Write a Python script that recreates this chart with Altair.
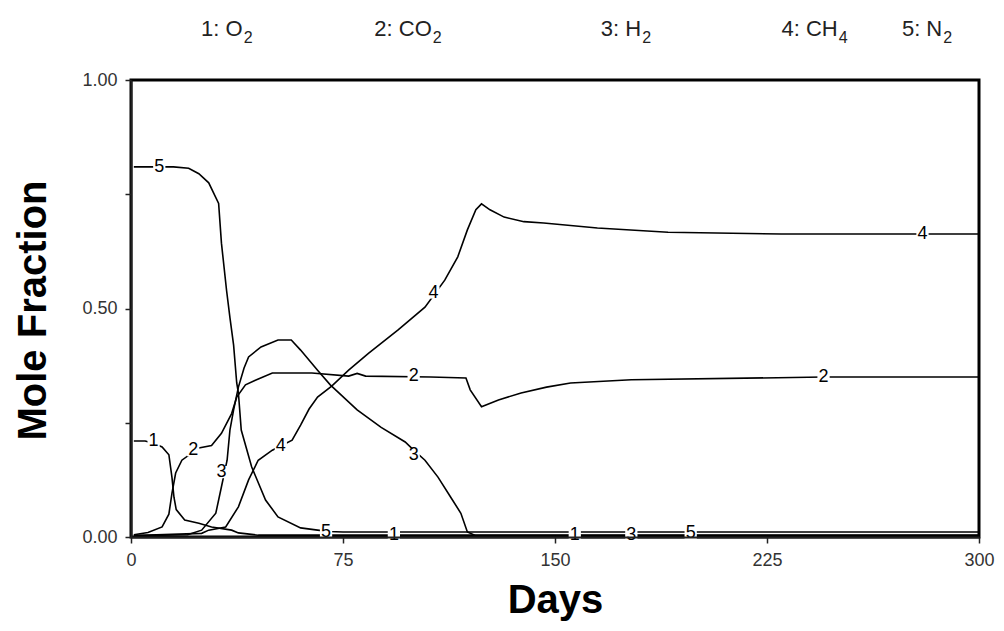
import altair as alt
import pandas as pd

# ---- data ----
series_names = ["1", "2", "3", "4", "5"]

days1 = [1, 5, 8, 11, 13.4, 14.5, 15.2, 16, 19, 24, 28.5, 35.6, 38, 45, 300]
vals1 = [0.21, 0.21, 0.205, 0.197, 0.18, 0.13, 0.087, 0.06, 0.037, 0.03, 0.022, 0.015, 0.009, 0.004, 0.004]

days2 = [1, 6, 11, 13.4, 14.5, 15.8, 18, 24, 28.5, 32, 35.6, 37.4, 40.5, 44, 50, 64, 77, 80, 83,
         106, 118.5, 120, 124, 130, 138, 147, 155.5, 177, 245, 300]
vals2 = [0.005, 0.01, 0.022, 0.05, 0.096, 0.14, 0.168, 0.195, 0.2, 0.227, 0.27, 0.306, 0.333, 0.343,
         0.359, 0.359, 0.352, 0.358, 0.352, 0.35, 0.348, 0.322, 0.285, 0.3, 0.315, 0.328, 0.337, 0.344,
         0.35, 0.35]

days3 = [1, 20, 25, 30, 32, 34, 35, 36.3, 38, 40, 41.6, 46, 52, 56.7, 60, 66, 70.5, 80, 88.5, 97,
         100, 104, 108.6, 113, 116.7, 119, 122, 300]
vals3 = [0.003, 0.005, 0.015, 0.052, 0.11, 0.168, 0.234, 0.278, 0.328, 0.37, 0.394, 0.416, 0.431,
         0.431, 0.409, 0.365, 0.333, 0.278, 0.24, 0.208, 0.19, 0.168, 0.131, 0.088, 0.052, 0.011,
         0.003, 0.003]

days4 = [1, 25, 27.5, 33.5, 38, 41.6, 45, 50, 57, 60, 63, 66, 71, 77, 84, 94.5, 104, 111, 115.6,
         119, 122, 124, 127, 132, 139, 146, 165, 190, 230, 300]
vals4 = [0.003, 0.008, 0.015, 0.022, 0.066, 0.125, 0.168, 0.19, 0.212, 0.245, 0.28, 0.306, 0.33,
         0.365, 0.402, 0.453, 0.503, 0.562, 0.613, 0.672, 0.716, 0.729, 0.716, 0.7, 0.69, 0.687,
         0.676, 0.667, 0.663, 0.663]

days5 = [1, 10, 15, 20.4, 24, 27.5, 31, 32, 33.8, 35, 36.3, 37.4, 38, 39, 42.7, 47.6, 52, 60, 66,
         70, 75, 300]
vals5 = [0.81, 0.81, 0.81, 0.807, 0.795, 0.775, 0.73, 0.643, 0.54, 0.48, 0.42, 0.337, 0.315, 0.234,
         0.153, 0.081, 0.044, 0.02, 0.015, 0.012, 0.011, 0.011]

# in-line curve labels
lab_text = ["1", "1", "1", "2", "2", "2", "3", "3", "3", "4", "4", "4", "5", "5", "5"]
lab_day = [8, 93, 157, 22, 100, 245, 32, 100, 177, 53, 107, 280, 10, 69, 198]
lab_val = [0.21, 0.004, 0.004, 0.19, 0.352, 0.35, 0.142, 0.18, 0.004, 0.2, 0.535, 0.663, 0.81, 0.012, 0.008]

# legend across the top
legend_main = ["1: O", "2: CO", "3: H", "4: CH", "5: N"]
legend_sub = ["2", "2", "2", "4", "2"]
legend_day = [39.5, 106.4, 180.5, 250, 287]
legend_val = [1.096, 1.096, 1.096, 1.096, 1.096]
legend_sub_val = [1.082, 1.082, 1.082, 1.082, 1.082]

x_ticks = [0, 75, 150, 225, 300]
y_ticks = [0, 0.25, 0.5, 0.75, 1.0]

# ---- tables ----
rows = []
for name, dd, vv in zip(series_names, [days1, days2, days3, days4, days5],
                        [vals1, vals2, vals3, vals4, vals5]):
    for d, v in zip(dd, vv):
        rows.append({"series": name, "day": d, "value": v})
lines_df = pd.DataFrame(rows)
labels_df = pd.DataFrame({"label": lab_text, "day": lab_day, "value": lab_val})
legend_df = pd.DataFrame({"main": legend_main, "sub": legend_sub, "day": legend_day,
                          "value": legend_val, "subvalue": legend_sub_val})

FONT = "Liberation Sans"

xscale = alt.Scale(domain=[0, 300], nice=False, zero=False)
yscale = alt.Scale(domain=[0, 1], nice=False)

xaxis = alt.Axis(values=x_ticks, title="Days", format="d", grid=False, zindex=1,
                 labelFlush=False,
                 titleY=75, titleBaseline="alphabetic", titleFontSize=40, titleFontWeight="bold",
                 titleFont=FONT, titleColor="black")
yaxis = alt.Axis(values=y_ticks, title="Mole Fraction", grid=False, zindex=1,
                 labelFlush=False,
                 labelExpr="datum.value == 0.25 || datum.value == 0.75 ? '' : format(datum.value, '.2f')",
                 titleX=-86, titleY=230, titleAngle=-90, titleBaseline="alphabetic",
                 titleFontSize=40, titleFontWeight="bold", titleFont=FONT, titleColor="black")

lines = alt.Chart(lines_df).mark_line(color="black", strokeWidth=1.6).encode(
    x=alt.X("day:Q", scale=xscale, axis=xaxis),
    y=alt.Y("value:Q", scale=yscale, axis=yaxis),
    detail="series:N",
)

boxes = alt.Chart(labels_df).mark_point(shape="square", filled=True, color="white",
                                        opacity=1, size=150).encode(
    x=alt.X("day:Q", scale=xscale),
    y=alt.Y("value:Q", scale=yscale),
)

texts = alt.Chart(labels_df).mark_text(font=FONT, fontSize=18, color="black",
                                       align="center", baseline="middle").encode(
    x=alt.X("day:Q", scale=xscale),
    y=alt.Y("value:Q", scale=yscale),
    text="label:N",
)

leg_main = alt.Chart(legend_df).mark_text(font=FONT, fontSize=22, color="#222",
                                          align="right", baseline="alphabetic").encode(
    x=alt.X("day:Q", scale=xscale),
    y=alt.Y("value:Q", scale=yscale),
    text="main:N",
)
leg_sub = alt.Chart(legend_df).mark_text(font=FONT, fontSize=16, color="#222",
                                         align="left", baseline="alphabetic", dx=1).encode(
    x=alt.X("day:Q", scale=xscale),
    y=alt.Y("subvalue:Q", scale=yscale),
    text="sub:N",
)

chart = alt.layer(lines, boxes, texts, leg_main, leg_sub).properties(
    width=848, height=457,
    autosize=alt.AutoSizeParams(type="none"),
    padding={"left": 123, "top": 72, "right": 16, "bottom": 86},
).configure_view(
    stroke="black", strokeWidth=3,
).configure_axis(
    domainColor="#222", domainWidth=2, tickColor="#222", tickWidth=1.5, tickSize=6,
    labelFont=FONT, labelFontSize=18, labelColor="#333", labelPadding=8,
)

chart.save("out.html", embed_options={"renderer": "svg", "actions": False})
